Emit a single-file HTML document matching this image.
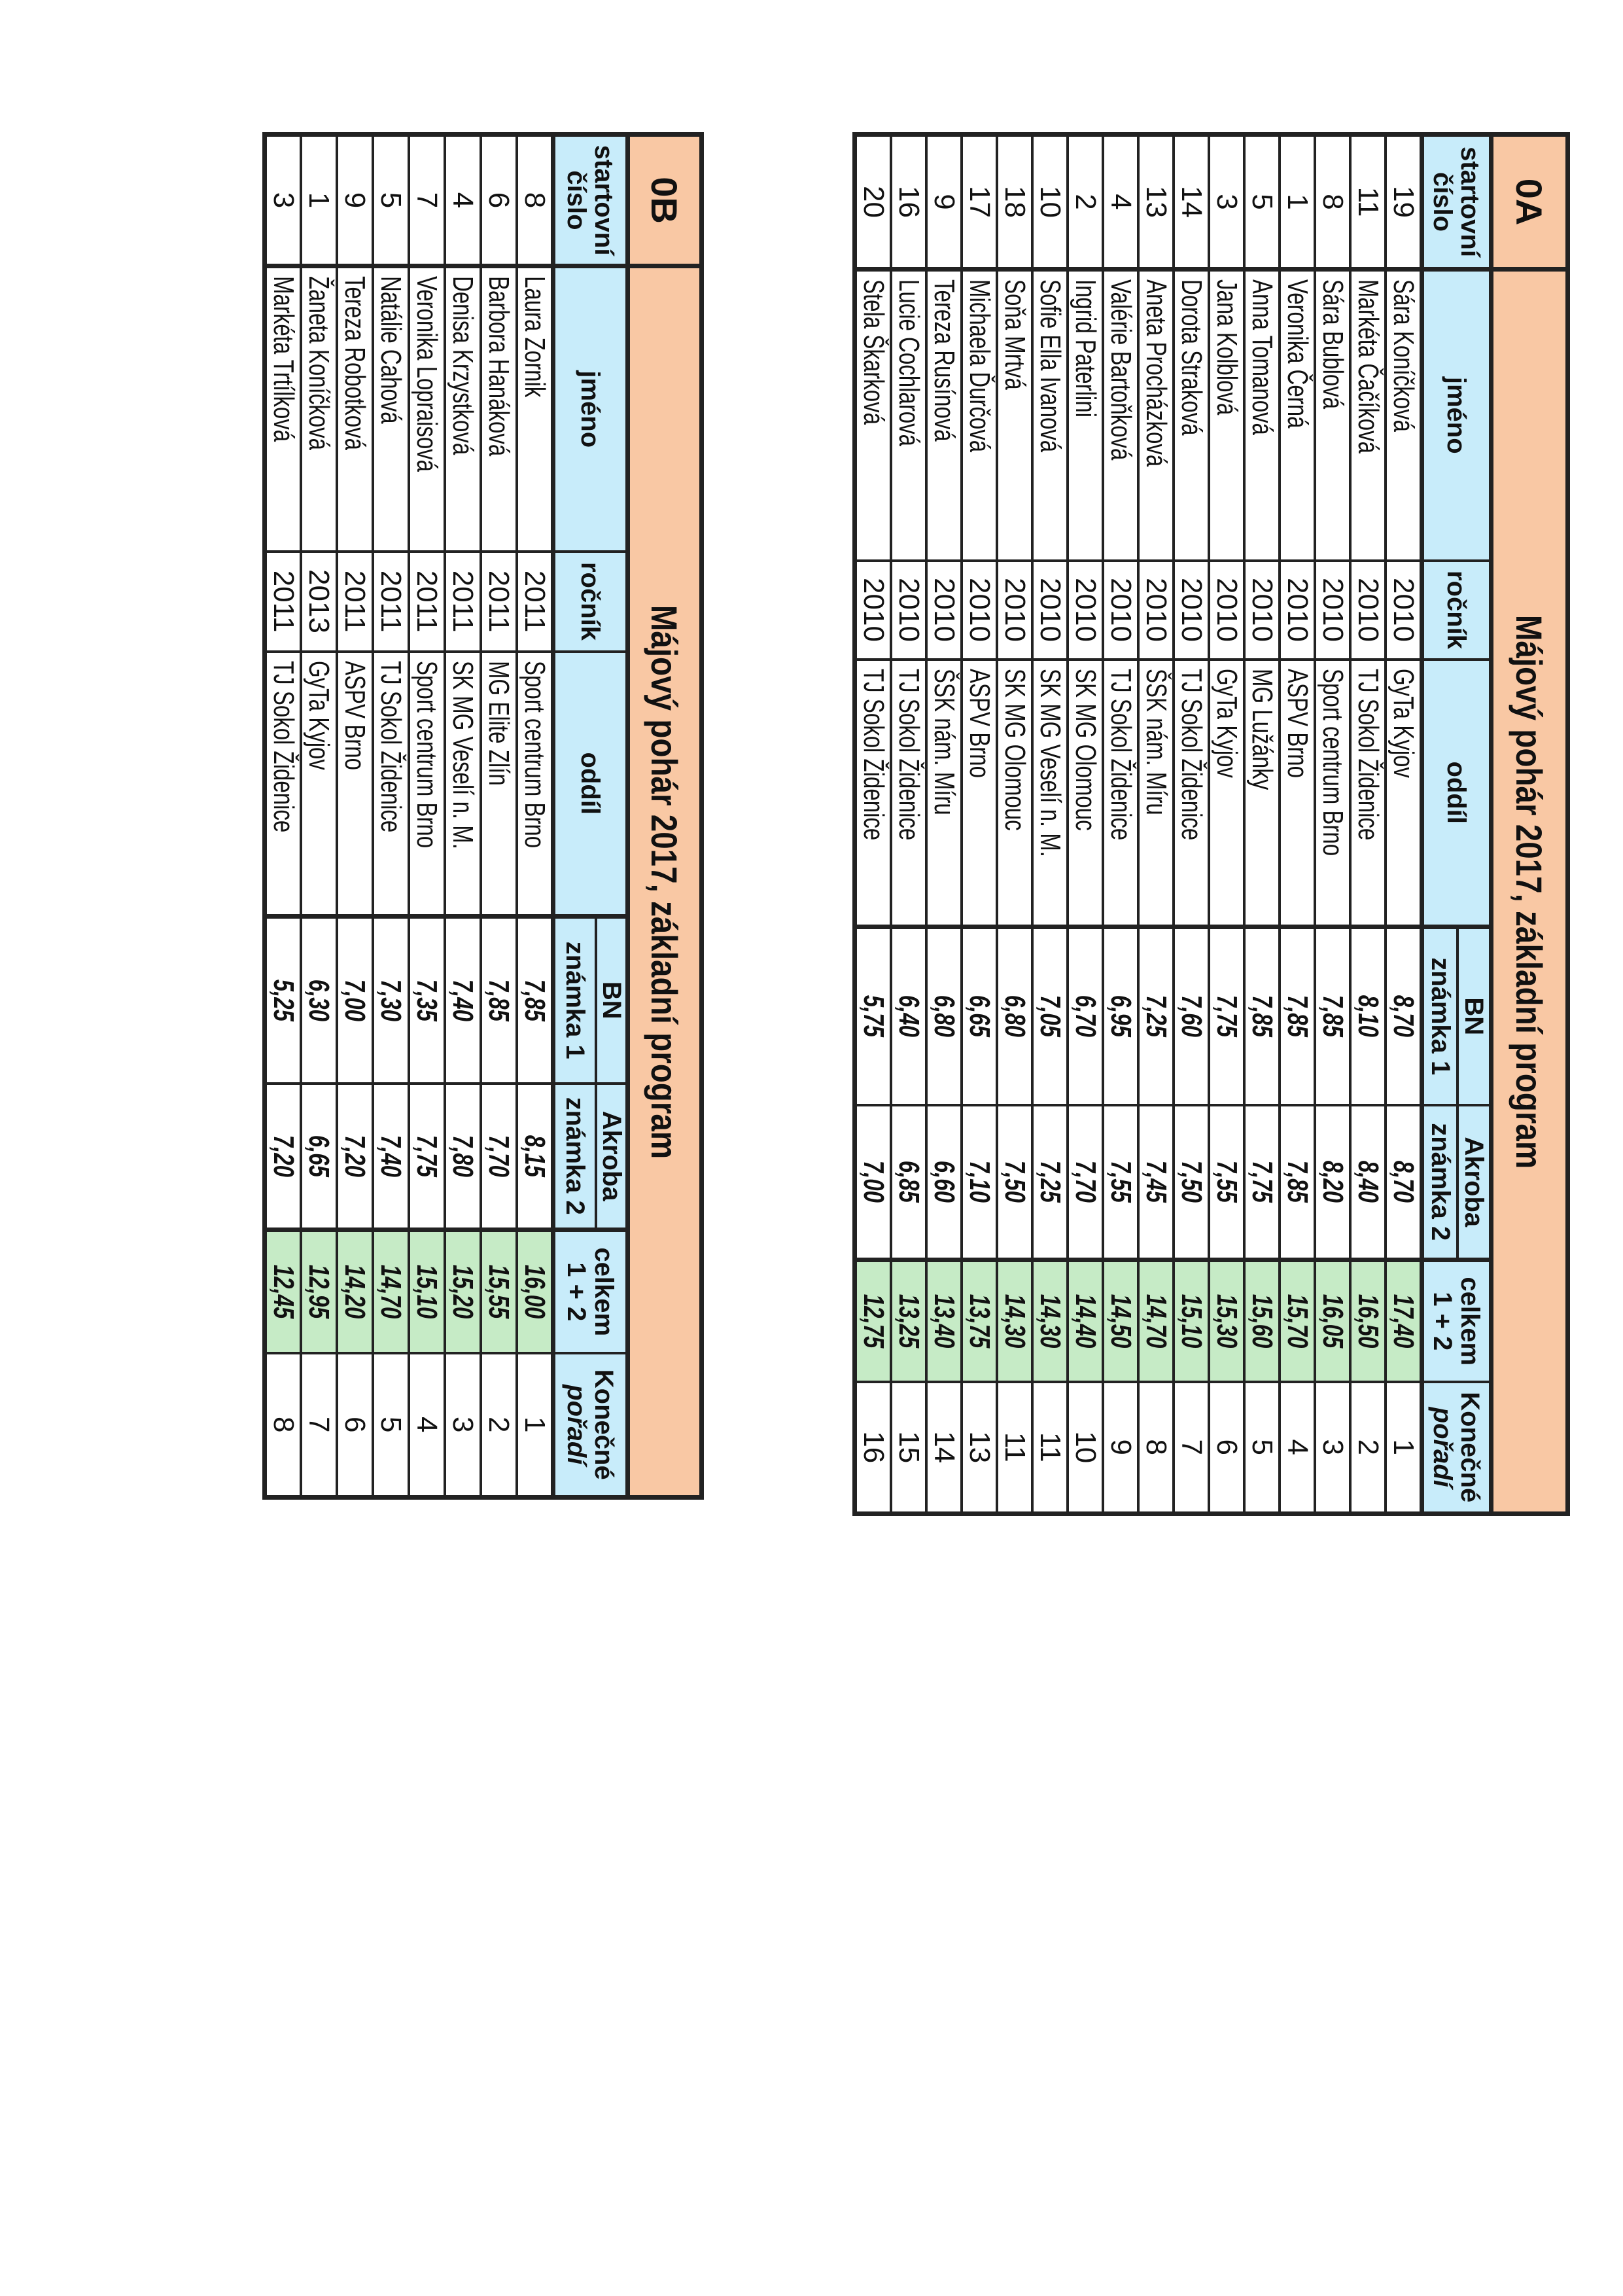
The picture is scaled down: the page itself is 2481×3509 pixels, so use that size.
<!DOCTYPE html>
<html><head><meta charset="utf-8">
<style>
html,body{margin:0;padding:0;background:#fff;}
body{width:2481px;height:3509px;position:relative;overflow:hidden;font-family:"Liberation Sans",Arial,sans-serif;}
.wrap{position:absolute;transform-origin:0 0;transform:rotate(90deg);}
table{border-collapse:collapse;table-layout:fixed;background:#fff;border:7px solid #222;}
td{border:4px solid #222;padding:0;overflow:hidden;white-space:nowrap;text-align:center;vertical-align:middle;color:#111;}
.t{background:#f9c8a4;font-weight:bold;font-size:56px;}
.h{background:#c8ecfa;font-weight:bold;font-size:40px;line-height:42px;}
.g{background:#c6ebc6;}
.n{display:inline-block;transform:scaleX(.75);}
.l{text-align:left;padding-left:12px;}
.l .n{transform-origin:0 50%;}
td.d{font-size:44px;}
.bi{font-weight:bold;font-style:italic;}
.thick{border-left-width:7px;}
.hb{border-bottom-width:7px;}
</style></head><body>

<div class="wrap" style="left:2400px;top:202px;">
<table style="width:2108px;">
<colgroup><col style="width:206px"><col style="width:445px"><col style="width:151px"><col style="width:409px"><col style="width:272px"><col style="width:237px"><col style="width:186px"><col style="width:202px"></colgroup>
<tr style="height:117px"><td class="t" style="border-bottom-width:7px">0A</td><td class="t" colspan="7" style="border-left-width:7px;border-bottom-width:7px"><span class="n" style="transform:scaleX(.85)">Májový pohár 2017, základní program</span></td></tr>
<tr style="height:51px"><td class="h hb" rowspan="2">startovní<br>číslo</td><td class="h hb thick" rowspan="2">jméno</td><td class="h hb" rowspan="2">ročník</td><td class="h hb" rowspan="2">oddíl</td><td class="h thick">BN</td><td class="h">Akroba</td><td class="h hb thick" rowspan="2">celkem<br>1 + 2</td><td class="h hb" rowspan="2">Konečné<br><i>pořadí</i></td></tr>
<tr style="height:55px"><td class="h hb thick">známka 1</td><td class="h hb">známka 2</td></tr>
<tr style="height:54px"><td class="d">19</td><td class="d l thick"><span class="n">Sára Koníčková</span></td><td class="d">2010</td><td class="d l"><span class="n">GyTa Kyjov</span></td><td class="d bi thick"><span class="n">8,70</span></td><td class="d bi"><span class="n">8,70</span></td><td class="d bi g thick"><span class="n">17,40</span></td><td class="d">1</td></tr>
<tr style="height:54px"><td class="d">11</td><td class="d l thick"><span class="n">Markéta Čačíková</span></td><td class="d">2010</td><td class="d l"><span class="n">TJ Sokol Židenice</span></td><td class="d bi thick"><span class="n">8,10</span></td><td class="d bi"><span class="n">8,40</span></td><td class="d bi g thick"><span class="n">16,50</span></td><td class="d">2</td></tr>
<tr style="height:54px"><td class="d">8</td><td class="d l thick"><span class="n">Sára Bublová</span></td><td class="d">2010</td><td class="d l"><span class="n">Sport centrum Brno</span></td><td class="d bi thick"><span class="n">7,85</span></td><td class="d bi"><span class="n">8,20</span></td><td class="d bi g thick"><span class="n">16,05</span></td><td class="d">3</td></tr>
<tr style="height:54px"><td class="d">1</td><td class="d l thick"><span class="n">Veronika Černá</span></td><td class="d">2010</td><td class="d l"><span class="n">ASPV Brno</span></td><td class="d bi thick"><span class="n">7,85</span></td><td class="d bi"><span class="n">7,85</span></td><td class="d bi g thick"><span class="n">15,70</span></td><td class="d">4</td></tr>
<tr style="height:54px"><td class="d">5</td><td class="d l thick"><span class="n">Anna Tomanová</span></td><td class="d">2010</td><td class="d l"><span class="n">MG Lužánky</span></td><td class="d bi thick"><span class="n">7,85</span></td><td class="d bi"><span class="n">7,75</span></td><td class="d bi g thick"><span class="n">15,60</span></td><td class="d">5</td></tr>
<tr style="height:54px"><td class="d">3</td><td class="d l thick"><span class="n">Jana Kolblová</span></td><td class="d">2010</td><td class="d l"><span class="n">GyTa Kyjov</span></td><td class="d bi thick"><span class="n">7,75</span></td><td class="d bi"><span class="n">7,55</span></td><td class="d bi g thick"><span class="n">15,30</span></td><td class="d">6</td></tr>
<tr style="height:54px"><td class="d">14</td><td class="d l thick"><span class="n">Dorota Straková</span></td><td class="d">2010</td><td class="d l"><span class="n">TJ Sokol Židenice</span></td><td class="d bi thick"><span class="n">7,60</span></td><td class="d bi"><span class="n">7,50</span></td><td class="d bi g thick"><span class="n">15,10</span></td><td class="d">7</td></tr>
<tr style="height:54px"><td class="d">13</td><td class="d l thick"><span class="n">Aneta Procházková</span></td><td class="d">2010</td><td class="d l"><span class="n">ŠSK nám. Míru</span></td><td class="d bi thick"><span class="n">7,25</span></td><td class="d bi"><span class="n">7,45</span></td><td class="d bi g thick"><span class="n">14,70</span></td><td class="d">8</td></tr>
<tr style="height:54px"><td class="d">4</td><td class="d l thick"><span class="n">Valérie Bartoňková</span></td><td class="d">2010</td><td class="d l"><span class="n">TJ Sokol Židenice</span></td><td class="d bi thick"><span class="n">6,95</span></td><td class="d bi"><span class="n">7,55</span></td><td class="d bi g thick"><span class="n">14,50</span></td><td class="d">9</td></tr>
<tr style="height:54px"><td class="d">2</td><td class="d l thick"><span class="n">Ingrid Paterlini</span></td><td class="d">2010</td><td class="d l"><span class="n">SK MG Olomouc</span></td><td class="d bi thick"><span class="n">6,70</span></td><td class="d bi"><span class="n">7,70</span></td><td class="d bi g thick"><span class="n">14,40</span></td><td class="d">10</td></tr>
<tr style="height:54px"><td class="d">10</td><td class="d l thick"><span class="n">Sofie Ella Ivanová</span></td><td class="d">2010</td><td class="d l"><span class="n">SK MG Veselí n. M.</span></td><td class="d bi thick"><span class="n">7,05</span></td><td class="d bi"><span class="n">7,25</span></td><td class="d bi g thick"><span class="n">14,30</span></td><td class="d">11</td></tr>
<tr style="height:54px"><td class="d">18</td><td class="d l thick"><span class="n">Soňa Mrtvá</span></td><td class="d">2010</td><td class="d l"><span class="n">SK MG Olomouc</span></td><td class="d bi thick"><span class="n">6,80</span></td><td class="d bi"><span class="n">7,50</span></td><td class="d bi g thick"><span class="n">14,30</span></td><td class="d">11</td></tr>
<tr style="height:54px"><td class="d">17</td><td class="d l thick"><span class="n">Michaela Ďurčová</span></td><td class="d">2010</td><td class="d l"><span class="n">ASPV Brno</span></td><td class="d bi thick"><span class="n">6,65</span></td><td class="d bi"><span class="n">7,10</span></td><td class="d bi g thick"><span class="n">13,75</span></td><td class="d">13</td></tr>
<tr style="height:54px"><td class="d">9</td><td class="d l thick"><span class="n">Tereza Rusínová</span></td><td class="d">2010</td><td class="d l"><span class="n">ŠSK nám. Míru</span></td><td class="d bi thick"><span class="n">6,80</span></td><td class="d bi"><span class="n">6,60</span></td><td class="d bi g thick"><span class="n">13,40</span></td><td class="d">14</td></tr>
<tr style="height:54px"><td class="d">16</td><td class="d l thick"><span class="n">Lucie Cochlarová</span></td><td class="d">2010</td><td class="d l"><span class="n">TJ Sokol Židenice</span></td><td class="d bi thick"><span class="n">6,40</span></td><td class="d bi"><span class="n">6,85</span></td><td class="d bi g thick"><span class="n">13,25</span></td><td class="d">15</td></tr>
<tr style="height:54px"><td class="d">20</td><td class="d l thick"><span class="n">Stela Škarková</span></td><td class="d">2010</td><td class="d l"><span class="n">TJ Sokol Židenice</span></td><td class="d bi thick"><span class="n">5,75</span></td><td class="d bi"><span class="n">7,00</span></td><td class="d bi g thick"><span class="n">12,75</span></td><td class="d">16</td></tr>
</table></div>

<div class="wrap" style="left:1076px;top:202px;">
<table style="width:2083px;">
<colgroup><col style="width:201px"><col style="width:436px"><col style="width:153px"><col style="width:405px"><col style="width:255px"><col style="width:224px"><col style="width:188px"><col style="width:221px"></colgroup>
<tr style="height:113px"><td class="t" style="border-bottom-width:7px">0B</td><td class="t" colspan="7" style="border-left-width:7px;border-bottom-width:7px"><span class="n" style="transform:scaleX(.85)">Májový pohár 2017, základní program</span></td></tr>
<tr style="height:48px"><td class="h hb" rowspan="2">startovní<br>číslo</td><td class="h hb thick" rowspan="2">jméno</td><td class="h hb" rowspan="2">ročník</td><td class="h hb" rowspan="2">oddíl</td><td class="h thick">BN</td><td class="h">Akroba</td><td class="h hb thick" rowspan="2">celkem<br>1 + 2</td><td class="h hb" rowspan="2">Konečné<br><i>pořadí</i></td></tr>
<tr style="height:66px"><td class="h hb thick">známka 1</td><td class="h hb">známka 2</td></tr>
<tr style="height:55px"><td class="d">8</td><td class="d l thick"><span class="n">Laura Zornik</span></td><td class="d">2011</td><td class="d l"><span class="n">Sport centrum Brno</span></td><td class="d bi thick"><span class="n">7,85</span></td><td class="d bi"><span class="n">8,15</span></td><td class="d bi g thick"><span class="n">16,00</span></td><td class="d">1</td></tr>
<tr style="height:55px"><td class="d">6</td><td class="d l thick"><span class="n">Barbora Hanáková</span></td><td class="d">2011</td><td class="d l"><span class="n">MG Elite Zlín</span></td><td class="d bi thick"><span class="n">7,85</span></td><td class="d bi"><span class="n">7,70</span></td><td class="d bi g thick"><span class="n">15,55</span></td><td class="d">2</td></tr>
<tr style="height:55px"><td class="d">4</td><td class="d l thick"><span class="n">Denisa Krzystková</span></td><td class="d">2011</td><td class="d l"><span class="n">SK MG Veselí n. M.</span></td><td class="d bi thick"><span class="n">7,40</span></td><td class="d bi"><span class="n">7,80</span></td><td class="d bi g thick"><span class="n">15,20</span></td><td class="d">3</td></tr>
<tr style="height:55px"><td class="d">7</td><td class="d l thick"><span class="n">Veronika Lopraisová</span></td><td class="d">2011</td><td class="d l"><span class="n">Sport centrum Brno</span></td><td class="d bi thick"><span class="n">7,35</span></td><td class="d bi"><span class="n">7,75</span></td><td class="d bi g thick"><span class="n">15,10</span></td><td class="d">4</td></tr>
<tr style="height:55px"><td class="d">5</td><td class="d l thick"><span class="n">Natálie Cahová</span></td><td class="d">2011</td><td class="d l"><span class="n">TJ Sokol Židenice</span></td><td class="d bi thick"><span class="n">7,30</span></td><td class="d bi"><span class="n">7,40</span></td><td class="d bi g thick"><span class="n">14,70</span></td><td class="d">5</td></tr>
<tr style="height:55px"><td class="d">9</td><td class="d l thick"><span class="n">Tereza Robotková</span></td><td class="d">2011</td><td class="d l"><span class="n">ASPV Brno</span></td><td class="d bi thick"><span class="n">7,00</span></td><td class="d bi"><span class="n">7,20</span></td><td class="d bi g thick"><span class="n">14,20</span></td><td class="d">6</td></tr>
<tr style="height:55px"><td class="d">1</td><td class="d l thick"><span class="n">Žaneta Koníčková</span></td><td class="d">2013</td><td class="d l"><span class="n">GyTa Kyjov</span></td><td class="d bi thick"><span class="n">6,30</span></td><td class="d bi"><span class="n">6,65</span></td><td class="d bi g thick"><span class="n">12,95</span></td><td class="d">7</td></tr>
<tr style="height:55px"><td class="d">3</td><td class="d l thick"><span class="n">Markéta Trtílková</span></td><td class="d">2011</td><td class="d l"><span class="n">TJ Sokol Židenice</span></td><td class="d bi thick"><span class="n">5,25</span></td><td class="d bi"><span class="n">7,20</span></td><td class="d bi g thick"><span class="n">12,45</span></td><td class="d">8</td></tr>
</table></div>

</body></html>
